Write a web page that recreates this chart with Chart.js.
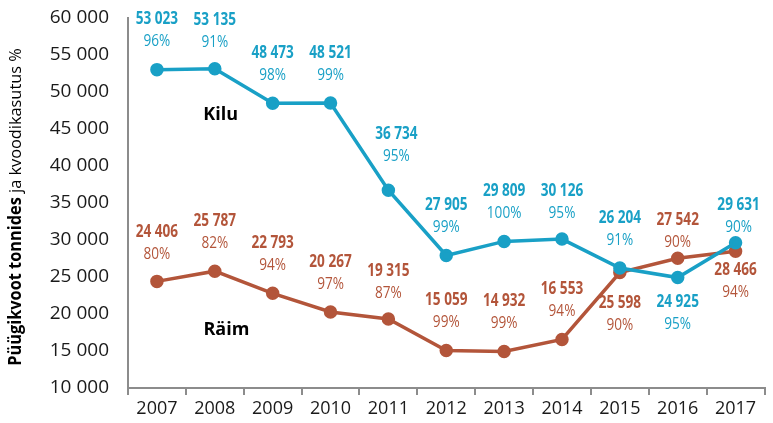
<!DOCTYPE html>
<html>
<head>
<meta charset="utf-8">
<script src="https://cdn.jsdelivr.net/npm/chart.js@4.4.1/dist/chart.umd.min.js"></script>
<style>
  html, body { margin: 0; padding: 0; background: #fff; }
  #wrap { width: 773px; height: 423px; }
</style>
</head>
<body>
<div id="wrap"><canvas id="graph" width="773" height="423"></canvas></div>
<script>
'use strict';

// data
const years = ['2007', '2008', '2009', '2010', '2011', '2012', '2013', '2014', '2015', '2016', '2017'];
const kiluQuota = [53023, 53135, 48473, 48521, 36734, 27905, 29809, 30126, 26204, 24925, 29631];
const kiluUsage = [96, 91, 98, 99, 95, 99, 100, 95, 91, 95, 90];
const raimQuota = [24406, 25787, 22793, 20267, 19315, 15059, 14932, 16553, 25598, 27542, 28466];
const raimUsage = [80, 82, 94, 97, 87, 99, 99, 94, 90, 90, 94];
const yMin = 10000;
const yMax = 60000;
const yStep = 5000;

const BLUE = '#19a0c6';
const BROWN = '#b3553a';
const AXIS = '#8c8c8c';
const MAIN = "'Open Sans', sans-serif";
const SQUEEZE = 0.8; // fake a condensed face for the point labels

// label placement (vertical shift of the value line from its point)
const labelPlace = {
    0: { dy: [-50, -49, -50, -50, -56, -50, -50, -48, -50, 25, -38], dx: [0, 0, 0, 0, 8, 0, 0, 0, 0, 0, 3] },
    1: { dy: [-49, -50, -50, -50, -48, -50, -50, -50, 31, -38, 19], dx: [0, 0, 0, 0, 0, 0, 0, 0, 0, 0, 0] }
};

function fmt(v) {
    return String(v).replace(/\B(?=(\d{3})+(?!\d))/g, ' ');
}

function squeezedText(ctx, text, x, y) {
    ctx.save();
    ctx.translate(x, y);
    ctx.scale(SQUEEZE, 1);
    ctx.fillText(text, 0, 0);
    ctx.restore();
}

const pointLabels = {
    id: 'pointLabels',
    afterDatasetsDraw(chart) {
        const ctx = chart.ctx;
        chart.data.datasets.forEach(function (ds, di) {
            const meta = chart.getDatasetMeta(di);
            const place = labelPlace[di];
            meta.data.forEach(function (pt, i) {
                const x = pt.x + place.dx[i];
                const y = pt.y + place.dy[i];
                ctx.save();
                ctx.fillStyle = ds.borderColor;
                ctx.textAlign = 'center';
                ctx.textBaseline = 'middle';
                ctx.font = 'bold 17px ' + MAIN;
                squeezedText(ctx, fmt(ds.data[i]), x, y);
                ctx.font = '17px ' + MAIN;
                squeezedText(ctx, ds.usage[i] + '%', x, y + 22);
                ctx.restore();
            });
        });
    }
};

// series names and the two-weight y title
const extraText = {
    id: 'extraText',
    afterDraw(chart) {
        const ctx = chart.ctx;
        const xs = chart.scales.x;
        const ys = chart.scales.y;
        ctx.save();
        ctx.fillStyle = '#000';
        ctx.font = 'bold 18px ' + MAIN;
        ctx.textAlign = 'center';
        ctx.textBaseline = 'middle';
        ctx.fillText('Kilu', xs.getPixelForValue(1.1), ys.getPixelForValue(46900));
        ctx.fillText('Räim', xs.getPixelForValue(1.2), ys.getPixelForValue(17800));

        const boldPart = 'Püügikvoot tonnides';
        const normPart = ' ja kvoodikasutus %';
        ctx.font = 'bold 17px ' + MAIN;
        const wb = ctx.measureText(boldPart).width;
        ctx.font = '17px ' + MAIN;
        const wn = ctx.measureText(normPart).width;
        const cy = (chart.chartArea.top + chart.chartArea.bottom) / 2 + 4;
        ctx.translate(16, cy);
        ctx.rotate(-Math.PI / 2);
        ctx.scale(0.96, 1);
        ctx.textAlign = 'left';
        const start = -(wb + wn) / 2;
        ctx.font = 'bold 17px ' + MAIN;
        ctx.fillText(boldPart, start, 0);
        ctx.font = '17px ' + MAIN;
        ctx.fillText(normPart, start + wb, 0);
        ctx.restore();
    }
};

new Chart('graph', {
    type: 'line',
    data: {
        labels: years,
        datasets: [{
            label: 'Kilu',
            data: kiluQuota,
            usage: kiluUsage,
            borderColor: BLUE,
            backgroundColor: BLUE,
            borderWidth: 3.5,
            pointRadius: 5,
            tension: 0
        }, {
            label: 'Räim',
            data: raimQuota,
            usage: raimUsage,
            borderColor: BROWN,
            backgroundColor: BROWN,
            borderWidth: 3.5,
            pointRadius: 5,
            tension: 0
        }]
    },
    options: {
        responsive: false,
        animation: false,
        layout: { padding: { top: 18, right: 0, left: 0, bottom: 0 } },
        plugins: {
            legend: { display: false },
            tooltip: { enabled: false }
        },
        scales: {
            x: {
                offset: true,
                grid: { offset: true, drawOnChartArea: false, drawTicks: true, tickLength: 7, color: AXIS, lineWidth: 2 },
                border: { color: AXIS, width: 2 },
                ticks: { color: '#1a1a1a', font: { family: MAIN, size: 18 }, padding: 3 },
                afterFit: function (s) { s.height = 35; }
            },
            y: {
                min: yMin,
                max: yMax,
                grid: { drawOnChartArea: false, drawTicks: false },
                border: { color: AXIS, width: 2 },
                ticks: {
                    stepSize: yStep,
                    color: '#1a1a1a',
                    font: { family: MAIN, size: 19 },
                    padding: 19,
                    callback: function (v) { return fmt(v); }
                },
                afterFit: function (s) {
                    s.width = 128;
                    s.paddingTop = 0;
                    s.paddingBottom = 0;
                }
            }
        }
    },
    plugins: [pointLabels, extraText]
});
</script>
</body>
</html>
